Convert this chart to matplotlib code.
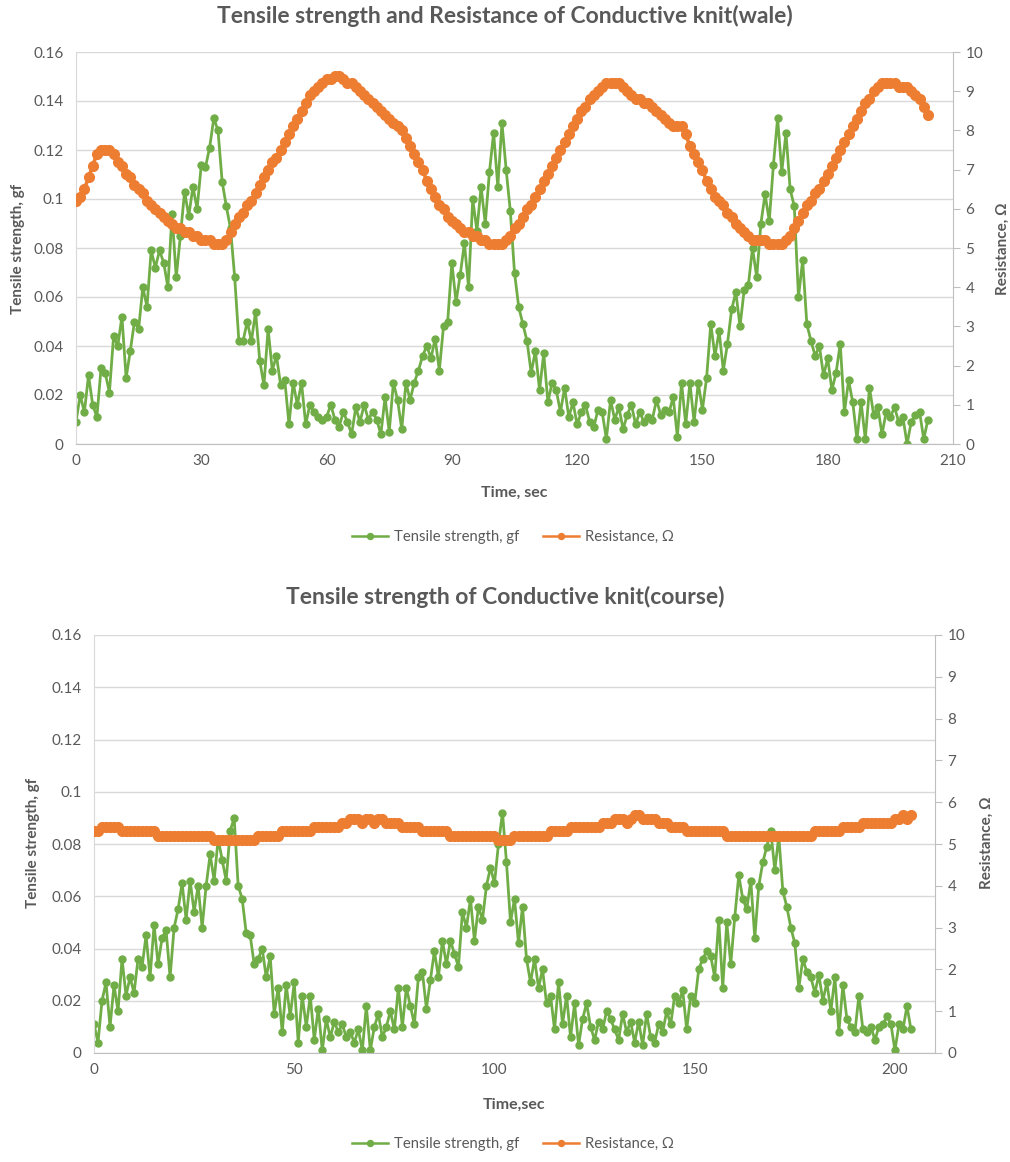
import numpy as np
import matplotlib
matplotlib.use("Agg")
import matplotlib.pyplot as plt
from matplotlib.lines import Line2D

plt.rcParams['font.family'] = ['Lato', 'DejaVu Sans']

GREEN = '#70AD47'
ORANGE = '#ED7D31'
GREY = '#595959'
GRID = '#D9D9D9'

# ---- wale: tensile strength (gf), one reading per second ----
wale_tensile = [
    0.009, 0.020, 0.013, 0.028, 0.016, 0.011, 0.031, 0.029, 0.021, 0.044,
    0.040, 0.052, 0.027, 0.038, 0.050, 0.047, 0.064, 0.056, 0.079, 0.072,
    0.079, 0.074, 0.064, 0.094, 0.068, 0.085, 0.103, 0.093, 0.105, 0.096,
    0.114, 0.113, 0.121, 0.133, 0.128, 0.107, 0.097, 0.088, 0.068, 0.042,
    0.042, 0.050, 0.042, 0.054, 0.034, 0.024, 0.047, 0.030, 0.036, 0.024,
    0.026, 0.008, 0.025, 0.016, 0.025, 0.008, 0.016, 0.013, 0.011, 0.010,
    0.011, 0.016, 0.010, 0.007, 0.013, 0.009, 0.004, 0.015, 0.009, 0.016,
    0.010, 0.013, 0.010, 0.004, 0.019, 0.005, 0.025, 0.018, 0.006, 0.025,
    0.018, 0.025, 0.030, 0.036, 0.040, 0.035, 0.043, 0.030, 0.048, 0.050,
    0.074, 0.058, 0.069, 0.082, 0.064, 0.100, 0.087, 0.105, 0.090, 0.111,
    0.127, 0.105, 0.131, 0.112, 0.095, 0.070, 0.056, 0.049, 0.042, 0.029,
    0.038, 0.022, 0.037, 0.017, 0.025, 0.022, 0.013, 0.023, 0.011, 0.017,
    0.008, 0.013, 0.016, 0.009, 0.007, 0.014, 0.013, 0.002, 0.018, 0.010,
    0.015, 0.006, 0.012, 0.016, 0.008, 0.013, 0.009, 0.011, 0.010, 0.018,
    0.012, 0.014, 0.013, 0.019, 0.003, 0.025, 0.008, 0.025, 0.009, 0.025,
    0.014, 0.027, 0.049, 0.036, 0.046, 0.030, 0.041, 0.055, 0.062, 0.048,
    0.063, 0.065, 0.080, 0.068, 0.090, 0.102, 0.091, 0.114, 0.133, 0.111,
    0.127, 0.104, 0.097, 0.060, 0.075, 0.049, 0.042, 0.036, 0.040, 0.028,
    0.035, 0.022, 0.029, 0.041, 0.013, 0.026, 0.017, 0.002, 0.017, 0.002,
    0.023, 0.012, 0.015, 0.004, 0.013, 0.011, 0.015, 0.009, 0.011, 0.000,
    0.009, 0.012, 0.013, 0.002, 0.010,
]

# ---- wale: resistance (ohm) ----
wale_resist = [
    6.2, 6.3, 6.5, 6.8, 7.1, 7.4, 7.5, 7.5, 7.5, 7.4,
    7.2, 7.1, 6.9, 6.8, 6.6, 6.5, 6.4, 6.2, 6.1, 6.0,
    5.9, 5.8, 5.7, 5.6, 5.5, 5.5, 5.4, 5.4, 5.3, 5.3,
    5.2, 5.2, 5.2, 5.1, 5.1, 5.1, 5.2, 5.4, 5.6, 5.8,
    5.9, 6.1, 6.2, 6.4, 6.6, 6.8, 7.0, 7.2, 7.3, 7.5,
    7.7, 7.9, 8.1, 8.3, 8.5, 8.7, 8.9, 9.0, 9.1, 9.2,
    9.3, 9.3, 9.4, 9.4, 9.3, 9.2, 9.2, 9.1, 9.0, 8.9,
    8.8, 8.7, 8.6, 8.5, 8.4, 8.3, 8.2, 8.1, 8.0, 7.8,
    7.6, 7.4, 7.2, 7.0, 6.7, 6.5, 6.3, 6.1, 6.0, 5.8,
    5.7, 5.6, 5.5, 5.4, 5.4, 5.3, 5.3, 5.2, 5.2, 5.1,
    5.1, 5.1, 5.1, 5.2, 5.3, 5.5, 5.6, 5.8, 6.0, 6.1,
    6.3, 6.5, 6.7, 6.9, 7.1, 7.3, 7.5, 7.7, 7.9, 8.1,
    8.3, 8.5, 8.6, 8.8, 8.9, 9.0, 9.1, 9.2, 9.2, 9.2,
    9.2, 9.1, 9.0, 8.9, 8.8, 8.8, 8.7, 8.7, 8.6, 8.5,
    8.4, 8.3, 8.2, 8.1, 8.1, 8.1, 7.9, 7.6, 7.4, 7.2,
    7.0, 6.7, 6.5, 6.3, 6.2, 6.1, 5.9, 5.8, 5.6, 5.5,
    5.4, 5.3, 5.2, 5.2, 5.2, 5.2, 5.1, 5.1, 5.1, 5.1,
    5.2, 5.3, 5.5, 5.7, 5.9, 6.1, 6.2, 6.4, 6.5, 6.7,
    6.9, 7.1, 7.3, 7.5, 7.7, 7.9, 8.1, 8.3, 8.5, 8.7,
    8.8, 9.0, 9.1, 9.2, 9.2, 9.2, 9.2, 9.1, 9.1, 9.1,
    9.0, 8.9, 8.8, 8.6, 8.4,
]

# ---- course: tensile strength (gf) ----
course_tensile = [
    0.011, 0.004, 0.020, 0.027, 0.010, 0.026, 0.016, 0.036, 0.022, 0.029,
    0.023, 0.036, 0.033, 0.045, 0.029, 0.049, 0.034, 0.044, 0.047, 0.029,
    0.048, 0.055, 0.065, 0.051, 0.066, 0.054, 0.064, 0.048, 0.064, 0.076,
    0.066, 0.082, 0.074, 0.066, 0.085, 0.090, 0.064, 0.059, 0.046, 0.045,
    0.034, 0.036, 0.040, 0.029, 0.037, 0.015, 0.025, 0.008, 0.026, 0.014,
    0.027, 0.004, 0.022, 0.010, 0.022, 0.005, 0.017, 0.001, 0.013, 0.006,
    0.012, 0.008, 0.011, 0.006, 0.008, 0.004, 0.009, 0.001, 0.018, 0.001,
    0.010, 0.015, 0.006, 0.010, 0.016, 0.009, 0.025, 0.010, 0.025, 0.018,
    0.011, 0.029, 0.031, 0.017, 0.028, 0.039, 0.029, 0.043, 0.034, 0.043,
    0.038, 0.033, 0.054, 0.048, 0.059, 0.043, 0.056, 0.051, 0.064, 0.071,
    0.065, 0.080, 0.092, 0.073, 0.050, 0.059, 0.042, 0.056, 0.036, 0.027,
    0.036, 0.025, 0.032, 0.019, 0.022, 0.009, 0.027, 0.011, 0.022, 0.006,
    0.019, 0.003, 0.013, 0.019, 0.010, 0.005, 0.012, 0.009, 0.016, 0.013,
    0.009, 0.005, 0.015, 0.008, 0.012, 0.004, 0.012, 0.003, 0.015, 0.006,
    0.004, 0.011, 0.008, 0.016, 0.011, 0.022, 0.019, 0.024, 0.009, 0.022,
    0.019, 0.032, 0.036, 0.039, 0.037, 0.029, 0.051, 0.025, 0.050, 0.034,
    0.052, 0.068, 0.059, 0.055, 0.066, 0.044, 0.064, 0.073, 0.079, 0.085,
    0.070, 0.083, 0.062, 0.056, 0.048, 0.042, 0.025, 0.036, 0.031, 0.029,
    0.023, 0.030, 0.020, 0.027, 0.016, 0.029, 0.008, 0.026, 0.013, 0.010,
    0.008, 0.022, 0.009, 0.008, 0.010, 0.005, 0.010, 0.011, 0.014, 0.011,
    0.001, 0.011, 0.009, 0.018, 0.009,
]

# ---- course: resistance (ohm) ----
course_resist = [
    5.3, 5.3, 5.4, 5.4, 5.4, 5.4, 5.4, 5.3, 5.3, 5.3,
    5.3, 5.3, 5.3, 5.3, 5.3, 5.3, 5.2, 5.2, 5.2, 5.2,
    5.2, 5.2, 5.2, 5.2, 5.2, 5.2, 5.2, 5.2, 5.2, 5.2,
    5.1, 5.1, 5.1, 5.1, 5.1, 5.1, 5.1, 5.1, 5.1, 5.1,
    5.1, 5.2, 5.2, 5.2, 5.2, 5.2, 5.2, 5.3, 5.3, 5.3,
    5.3, 5.3, 5.3, 5.3, 5.3, 5.4, 5.4, 5.4, 5.4, 5.4,
    5.4, 5.4, 5.5, 5.5, 5.6, 5.6, 5.6, 5.5, 5.6, 5.6,
    5.5, 5.6, 5.6, 5.5, 5.5, 5.5, 5.5, 5.4, 5.4, 5.4,
    5.4, 5.4, 5.3, 5.3, 5.3, 5.3, 5.3, 5.3, 5.3, 5.2,
    5.2, 5.2, 5.2, 5.2, 5.2, 5.2, 5.2, 5.2, 5.2, 5.2,
    5.2, 5.1, 5.1, 5.1, 5.1, 5.2, 5.2, 5.2, 5.2, 5.2,
    5.2, 5.2, 5.2, 5.2, 5.3, 5.3, 5.3, 5.3, 5.3, 5.4,
    5.4, 5.4, 5.4, 5.4, 5.4, 5.4, 5.4, 5.5, 5.5, 5.5,
    5.6, 5.6, 5.6, 5.5, 5.6, 5.7, 5.7, 5.6, 5.6, 5.6,
    5.6, 5.5, 5.5, 5.5, 5.4, 5.4, 5.4, 5.4, 5.3, 5.3,
    5.3, 5.3, 5.3, 5.3, 5.3, 5.3, 5.3, 5.3, 5.2, 5.2,
    5.2, 5.2, 5.2, 5.2, 5.2, 5.2, 5.2, 5.2, 5.2, 5.2,
    5.2, 5.2, 5.2, 5.2, 5.2, 5.2, 5.2, 5.2, 5.2, 5.2,
    5.3, 5.3, 5.3, 5.3, 5.3, 5.3, 5.3, 5.4, 5.4, 5.4,
    5.4, 5.4, 5.5, 5.5, 5.5, 5.5, 5.5, 5.5, 5.5, 5.5,
    5.6, 5.6, 5.7, 5.6, 5.7,
]

left_ticks = [0, 0.02, 0.04, 0.06, 0.08, 0.10, 0.12, 0.14, 0.16]
left_labels = ['0', '0.02', '0.04', '0.06', '0.08', '0.1', '0.12', '0.14', '0.16']
right_ticks = list(range(0, 11))

W, H = 1010, 1162
fig = plt.figure(figsize=(W / 100, H / 100), dpi=100)


def px(x0, y0, x1, y1):
    # pixel box -> figure fraction rect
    return [x0 / W, 1 - y1 / H, (x1 - x0) / W, (y1 - y0) / H]


def draw_panel(rect, tensile, resist, xticks, title, xlabel, title_y,
               xlabel_y, lab_left_x, lab_right_x, lab_y, legend_y):
    ax = fig.add_axes(rect)
    ax2 = ax.twinx()
    t1 = np.arange(len(tensile))
    t2 = np.arange(len(resist))
    ax.plot(t1, tensile, color=GREEN, lw=2.0, marker='o', ms=5.0,
            mec=GREEN, mfc=GREEN)
    ax2.plot(t2, resist, color=ORANGE, lw=2.6, marker='o', ms=7.0,
             mec=ORANGE, mfc=ORANGE)

    ax.set_xlim(0, 210)
    ax.set_ylim(0, 0.16)
    ax2.set_ylim(0, 10)
    ax.set_xticks(xticks)
    ax.set_yticks(left_ticks)
    ax.set_yticklabels(left_labels)
    ax2.set_yticks(right_ticks)
    ax.grid(axis='y', color=GRID, lw=1)
    ax.set_axisbelow(True)

    for a in (ax, ax2):
        for s in a.spines.values():
            s.set_visible(False)
    ax.spines['left'].set_visible(True)
    ax.spines['left'].set_color(GRID)
    ax.spines['bottom'].set_visible(True)
    ax.spines['bottom'].set_color('#BFBFBF')
    ax2.spines['right'].set_visible(True)
    ax2.spines['right'].set_color('#BFBFBF')

    ax.tick_params(axis='y', length=0, pad=9, labelsize=11, labelcolor=GREY)
    ax.tick_params(axis='x', length=0, pad=7, labelsize=11, labelcolor=GREY)
    ax2.tick_params(axis='y', length=5, color='#BFBFBF', pad=4,
                    labelsize=11, labelcolor=GREY)

    fig.text(0.5, 1 - title_y / H, title, ha='center', va='center',
             fontsize=16.5, fontweight='bold', color=GREY)
    fig.text(514 / W, 1 - xlabel_y / H, xlabel, ha='center', va='center',
             fontsize=11.5, fontweight='bold', color=GREY)
    fig.text(lab_left_x / W, 1 - lab_y / H, 'Tensile strength, gf',
             rotation=90, ha='center', va='center', fontsize=11,
             fontweight='bold', color=GREY)
    fig.text(lab_right_x / W, 1 - lab_y / H, 'Resistance, \u03a9',
             rotation=90, ha='center', va='center', fontsize=11,
             fontweight='bold', color=GREY)

    handles = [
        Line2D([], [], color=GREEN, lw=1.8, marker='o', ms=4.3),
        Line2D([], [], color=ORANGE, lw=1.8, marker='o', ms=4.3),
    ]
    leg = fig.legend(handles, ['Tensile strength, gf', 'Resistance, \u03a9'],
                     loc='center', bbox_to_anchor=(513 / W, 1 - legend_y / H),
                     ncol=2, frameon=False, fontsize=10.7, handlelength=2.4,
                     columnspacing=1.6, handletextpad=0.4)
    for txt in leg.get_texts():
        txt.set_color(GREY)
    return ax, ax2


draw_panel(px(76, 52, 953, 444), wale_tensile, wale_resist,
           [0, 30, 60, 90, 120, 150, 180, 210],
           'Tensile strength and Resistance of Conductive knit(wale)',
           'Time, sec', 16, 493, 18, 1003, 249, 537)

draw_panel(px(94, 635, 935, 1053), course_tensile, course_resist,
           [0, 50, 100, 150, 200],
           'Tensile strength of Conductive knit(course)',
           'Time,sec', 597, 1105, 33, 987, 843, 1144)

fig.savefig('out.png', dpi=100, facecolor='white')
